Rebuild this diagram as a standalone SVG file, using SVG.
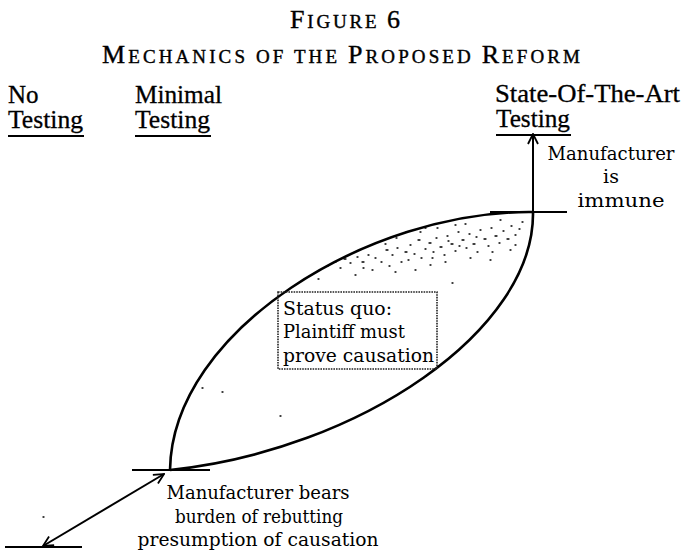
<svg xmlns="http://www.w3.org/2000/svg" width="682" height="554" viewBox="0 0 682 554">
<defs>
<style>
.ln{stroke:#000;fill:none;stroke-width:2}
.cv{stroke:#000;fill:none;stroke-width:2.6}
.box{stroke:#222;fill:none;stroke-width:1.6;stroke-dasharray:1.6 1}
.sp{stroke:#000;stroke-width:1.3;stroke-linecap:round;fill:none}
</style>
<marker id="ah" viewBox="0 0 12 12" refX="11" refY="6" markerWidth="12" markerHeight="12" markerUnits="userSpaceOnUse" orient="auto-start-reverse">
<path d="M1,1 L11,6 L1,11" fill="none" stroke="#000" stroke-width="1.8"/>
</marker>
</defs>
<rect width="682" height="554" fill="#fff"/>
<g id="title">
<text x="290" y="28" textLength="110" lengthAdjust="spacing" style="font-family:'Liberation Serif',serif;fill:#000;stroke:#000;stroke-width:0.4"><tspan style="font-size:26px">F</tspan><tspan style="font-size:19px">IGURE </tspan><tspan style="font-size:26px">6</tspan></text>
<text x="102" y="63" textLength="478" lengthAdjust="spacing" style="font-family:'Liberation Serif',serif;fill:#000;stroke:#000;stroke-width:0.4"><tspan style="font-size:26px">M</tspan><tspan style="font-size:19px">ECHANICS OF THE </tspan><tspan style="font-size:26px">P</tspan><tspan style="font-size:19px">ROPOSED </tspan><tspan style="font-size:26px">R</tspan><tspan style="font-size:19px">EFORM</tspan></text>
</g>
<g id="no-testing">
<text x="8" y="103" style="font-family:'Liberation Serif',serif;font-size:25px;fill:#000;stroke:#000;stroke-width:0.3">No</text>
<text x="8" y="128" textLength="75" lengthAdjust="spacingAndGlyphs" style="font-family:'Liberation Serif',serif;font-size:25px;fill:#000;stroke:#000;stroke-width:0.3">Testing</text>
<line class="ln" x1="8" y1="136" x2="84" y2="136" stroke-width="1.6"/>
</g>
<g id="minimal-testing">
<text x="135" y="103" textLength="87" lengthAdjust="spacingAndGlyphs" style="font-family:'Liberation Serif',serif;font-size:25px;fill:#000;stroke:#000;stroke-width:0.3">Minimal</text>
<text x="135" y="128" textLength="75" lengthAdjust="spacingAndGlyphs" style="font-family:'Liberation Serif',serif;font-size:25px;fill:#000;stroke:#000;stroke-width:0.3">Testing</text>
<line class="ln" x1="135" y1="136" x2="211" y2="136" stroke-width="1.6"/>
</g>
<g id="sota-testing">
<text x="495" y="102" textLength="185" lengthAdjust="spacingAndGlyphs" style="font-family:'Liberation Serif',serif;font-size:25px;fill:#000;stroke:#000;stroke-width:0.3">State-Of-The-Art</text>
<text x="496" y="127" textLength="74" lengthAdjust="spacingAndGlyphs" style="font-family:'Liberation Serif',serif;font-size:25px;fill:#000;stroke:#000;stroke-width:0.3">Testing</text>
<line class="ln" x1="496" y1="135" x2="571" y2="135" stroke-width="1.6"/>
</g>
<g id="lens">
<path class="cv" d="M170,470 C172,330 370,210 533,212"/>
<path class="cv" d="M170,470 C360,450 535,330 533,212"/>
<path class="sp" d="M327,266h1M335,262h1M340,268h1M344,259h2M350,263h1M357,257h1M362,262h2M368,255h1M375,258h1M381,262h1M386,250h2M392,255h1M397,248h1M401,262h1M405,252h2M410,245h1M414,254h1M418,240h2M421,258h1M425,249h1M429,243h2M433,252h1M436,238h1M440,247h2M444,255h1M447,236h1M451,244h2M455,251h1M458,232h1M462,240h2M466,248h1M469,234h1M473,244h2M477,252h1M480,230h1M484,239h2M488,246h1M491,228h1M495,236h2M499,243h1M503,231h1M507,239h2M511,226h1M515,235h1M519,229h1M522,222h1M470,258h1M445,262h1M430,265h1M415,270h1M395,272h1M372,270h1M318,279h1M355,275h1M406,232h1M425,228h1M455,225h1M500,220h1M510,250h1M490,260h1M515,245h1M396,238h1M385,244h1M420,232h1M437,228h1M465,224h1M448,241h1M476,237h1M432,258h1M459,246h1M492,252h1M408,260h1M389,266h1M363,268h1M202,388h1M222,392h1M280,416h1M43,517h1M452,283h1"/>
</g>
<g id="status-quo">
<rect class="box" x="278" y="292" width="159" height="77"/>
<text x="283" y="315" textLength="109" lengthAdjust="spacingAndGlyphs" style="font-family:'DejaVu Serif',serif;font-size:19px;fill:#000">Status quo:</text>
<text x="283" y="338" textLength="122" lengthAdjust="spacingAndGlyphs" style="font-family:'DejaVu Serif',serif;font-size:19px;fill:#000">Plaintiff must</text>
<text x="283" y="362" textLength="151" lengthAdjust="spacingAndGlyphs" style="font-family:'DejaVu Serif',serif;font-size:19px;fill:#000">prove causation</text>
</g>
<g id="immune">
<line class="ln" x1="490" y1="212" x2="567" y2="212"/>
<text x="611" y="160" text-anchor="middle" textLength="127" lengthAdjust="spacingAndGlyphs" style="font-family:'DejaVu Serif',serif;font-size:19px;fill:#000">Manufacturer</text>
<text x="611" y="183" text-anchor="middle" style="font-family:'DejaVu Serif',serif;font-size:19px;fill:#000">is</text>
<text x="621" y="207" text-anchor="middle" textLength="87" lengthAdjust="spacingAndGlyphs" style="font-family:'DejaVu Serif',serif;font-size:19px;fill:#000">immune</text>
</g>
<g id="burden">
<line class="ln" x1="132" y1="470" x2="210" y2="470"/>
<line class="ln" x1="5" y1="547" x2="82" y2="547"/>
<text x="258" y="499" text-anchor="middle" textLength="183" lengthAdjust="spacingAndGlyphs" style="font-family:'DejaVu Serif',serif;font-size:19px;fill:#000">Manufacturer bears</text>
<text x="259" y="523" text-anchor="middle" textLength="168" lengthAdjust="spacingAndGlyphs" style="font-family:'DejaVu Serif',serif;font-size:19px;fill:#000">burden of rebutting</text>
<text x="258" y="546" text-anchor="middle" textLength="241" lengthAdjust="spacingAndGlyphs" style="font-family:'DejaVu Serif',serif;font-size:19px;fill:#000">presumption of causation</text>
</g>
<g id="connectors">
<line class="ln" x1="533" y1="212" x2="533" y2="134" marker-end="url(#ah)"/>
<line class="ln" x1="43" y1="546" x2="164" y2="474" marker-start="url(#ah)" marker-end="url(#ah)"/>
</g>
</svg>
